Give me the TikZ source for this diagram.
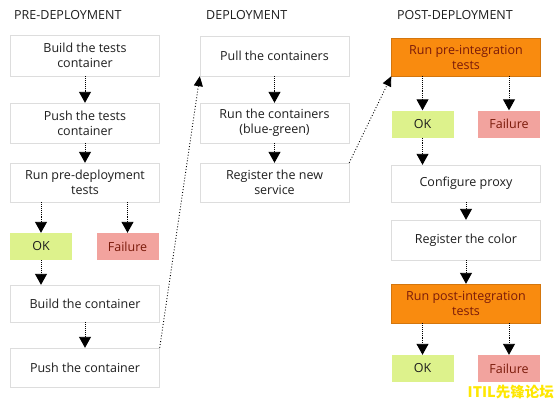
\documentclass[tikz,border=0pt]{standalone}
\usepackage{fontspec}
\setmainfont{Open Sans}
\newfontfamily\cjkfont{Noto Sans CJK SC}
\usetikzlibrary{arrows.meta}
\definecolor{okgreen}{HTML}{DDF28C}
\definecolor{failred}{HTML}{F2A39E}
\definecolor{orangebox}{HTML}{F98B0F}
\definecolor{boxline}{HTML}{DDDDDD}
\definecolor{txt}{HTML}{1E1E1E}
\definecolor{darkred}{HTML}{7A1A0A}
\begin{document}
\begin{tikzpicture}[x=1pt,y=-1pt,
  every node/.style={font=\fontsize{12.5}{15}\selectfont, text=txt, align=center, inner sep=0pt},
  stepbox/.style={draw=boxline, fill=white, minimum width=149pt},
  okbox/.style={fill=okgreen, minimum width=62pt, minimum height=27pt},
  failbox/.style={fill=failred, minimum width=62pt, minimum height=27pt, text=darkred},
  orbox/.style={fill=orangebox, draw=orangebox!85!black, minimum width=149pt, text=darkred},
  title/.style={anchor=west, font=\fontsize{12.5}{15}\selectfont},
  flow/.style={densely dotted, line width=0.9pt, -{Triangle[width=12pt,length=11pt]}},
  jump/.style={dotted, line width=0.9pt, -{Triangle[width=9pt,length=10pt]}}
]
\useasboundingbox (0,0) rectangle (554,402);
\fill[white] (0,0) rectangle (554,402);

% titles
\node[title] (t1) at (14,15) {PRE-DEPLOYMENT};
\node[title] (t2) at (206,15) {DEPLOYMENT};
\node[title] (t3) at (397,15) {POST-DEPLOYMENT};

% left column
\node[stepbox, minimum height=41pt] (b1) at (85,55.5) {Build the tests\\container};
\node[stepbox, minimum height=40pt] (b2) at (85,123) {Push the tests\\container};
\node[stepbox, minimum height=39pt] (b3) at (85,182.5) {Run pre-deployment\\tests};
\node[okbox] (ok1) at (41,246.5) {OK};
\node[failbox] (f1) at (127.5,246.5) {Failure};
\node[stepbox, minimum height=37pt] (b4) at (85,303.5) {Build the container};
\node[stepbox, minimum height=39pt] (b5) at (85,367.5) {Push the container};

% middle column
\node[stepbox, minimum height=40pt] (m1) at (274.5,56) {Pull the containers};
\node[stepbox, minimum height=40pt] (m2) at (274.5,123) {Run the containers\\(blue-green)};
\node[stepbox, minimum height=39pt] (m3) at (274.5,182.5) {Register the new\\service};

% right column
\node[orbox, minimum height=38pt] (r1) at (466,57) {Run pre-integration\\tests};
\node[okbox] (ok2) at (422.5,124) {OK};
\node[failbox] (f2) at (509,124) {Failure};
\node[stepbox, minimum height=37pt] (r2) at (466,183.5) {Configure proxy};
\node[stepbox, minimum height=40pt] (r3) at (466,240) {Register the color};
\node[orbox, minimum height=39pt] (r4) at (466,303.5) {Run post-integration\\tests};
\node[okbox] (ok3) at (422.5,368.5) {OK};
\node[failbox] (f3) at (509,368.5) {Failure};

% watermark
\node[anchor=east, font=\cjkfont\bfseries\fontsize{14.5}{16}\selectfont, text=yellow!90!orange] (wm) at (554,392) {ITIL先锋论坛};

% flow arrows left
\draw[flow] (b1.south) -- (b2.north);
\draw[flow] (b2.south) -- (b3.north);
\draw[flow] (b3.south -| ok1.north) -- (ok1.north);
\draw[flow] (b3.south -| f1.north) -- (f1.north);
\draw[flow] (ok1.south) -- (ok1.south |- b4.north);
\draw[flow] (b4.south) -- (b5.north);

% middle
\draw[flow] (m1.south) -- (m2.north);
\draw[flow] (m2.south) -- (m3.north);

% right
\draw[flow] (r1.south -| ok2.north) -- (ok2.north);
\draw[flow] (r1.south -| f2.north) -- (f2.north);
\draw[flow] (ok2.south) -- (ok2.south |- r2.north);
\draw[flow] (r2.south) -- (r3.north);
\draw[flow] (r3.south) -- (r4.north);
\draw[flow] (r4.south -| ok3.north) -- (ok3.north);
\draw[flow] (r4.south -| f3.north) -- (f3.north);

% jumps between columns
\draw[jump] (b5.north east) -- (m1.south west);
\draw[jump] (m3.north east) -- (r1.south west);
\end{tikzpicture}
\end{document}
